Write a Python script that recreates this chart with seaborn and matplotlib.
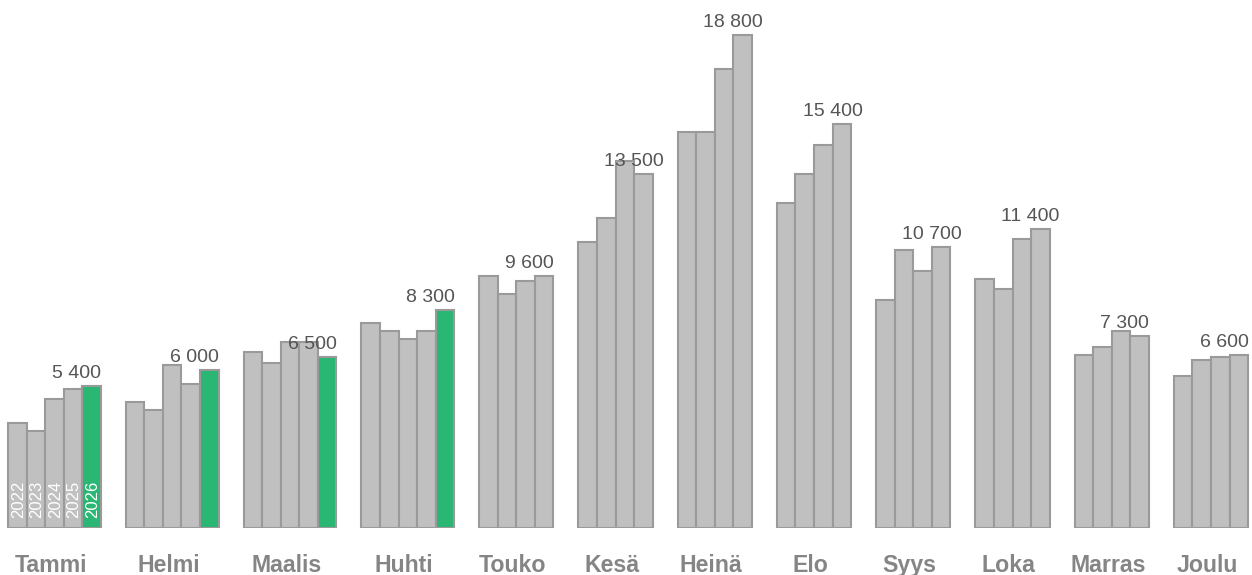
import matplotlib
matplotlib.use("Agg")
import matplotlib.pyplot as plt
import seaborn as sns
import pandas as pd

months = ["Tammi", "Helmi", "Maalis", "Huhti", "Touko", "Kesä",
          "Heinä", "Elo", "Syys", "Loka", "Marras", "Joulu"]
years = ["2022", "2023", "2024", "2025", "2026"]

v2022 = [4000, 4800, 6700, 7800, 9600, 10900, 15100, 12400, 8700, 9500, 6600, 5800]
v2023 = [3700, 4500, 6300, 7500, 8900, 11800, 15100, 13500, 10600, 9100, 6900, 6400]
v2024 = [4900, 6200, 7100, 7200, 9400, 14000, 17500, 14600, 9800, 11000, 7500, 6500]
v2025 = [5300, 5500, 7100, 7500, 9600, 13500, 18800, 15400, 10700, 11400, 7300, 6600]
v2026 = [5400, 6000, 6500, 8300, None, None, None, None, None, None, None, None]

GRAY = "#c0c0c0"
GREEN = "#2ab673"
EDGE = "#9a9a9a"
palette = {"2022": GRAY, "2023": GRAY, "2024": GRAY, "2025": GRAY, "2026": GREEN}

# layout: bar width = 1 unit, gap between month groups in bar widths
GAP = 1.347
BAR_PX = 18.56
FIG_W, FIG_H = 1252, 575
BASE_PX = 47.3  # baseline distance from bottom of figure
YTOP = 20137
U_PER_PX = YTOP / (FIG_H - BASE_PX)

rows = []
groups = []
pos = 0.0
for i, m in enumerate(months):
    vals = [v2022[i], v2023[i], v2024[i], v2025[i], v2026[i]]
    start = pos
    last = None
    for y, v in zip(years, vals):
        if v is None:
            continue
        rows.append({"month": m, "year": y, "value": v, "pos": pos})
        last = v
        pos += 1
    groups.append((m, start, pos - 1, last))
    pos += GAP

df = pd.DataFrame(rows)

sns.set_style("white")
plt.rcParams["font.family"] = ["Liberation Sans", "DejaVu Sans"]

fig = plt.figure(figsize=(FIG_W / 100, FIG_H / 100), dpi=100)
ax = fig.add_axes([0, BASE_PX / FIG_H, 1, 1 - BASE_PX / FIG_H])

sns.barplot(data=df, x="pos", y="value", hue="year", palette=palette,
            native_scale=True, width=1, dodge=False, saturation=1,
            edgecolor=EDGE, linewidth=1.5, legend=False, ax=ax)

xl = -(8 + BAR_PX / 2) / BAR_PX
ax.set_xlim(xl, xl + FIG_W / BAR_PX)
ax.set_ylim(0, YTOP)
ax.set_axis_off()

for m, first, last_pos, last_val in groups:
    center = (first + last_pos) / 2 - 0.2
    ax.text(center, -44 * U_PER_PX, m, ha="center", va="baseline",
            fontsize=16.7, fontweight="bold", color="#858585", clip_on=False)
    label = f"{last_val:,}".replace(",", " ")
    ax.text(last_pos + 0.5 - 2.61, last_val + 8 * U_PER_PX, label,
            ha="left", va="baseline", fontsize=14, color="#555555")

# year labels inside the first group
first_group = df[df["month"] == months[0]]
for _, r in first_group.iterrows():
    ax.text(r["pos"] + 0.05, 10 * U_PER_PX, r["year"], rotation=90, ha="center",
            va="bottom", fontsize=12, color="white")

fig.savefig("out.png", dpi=100)
